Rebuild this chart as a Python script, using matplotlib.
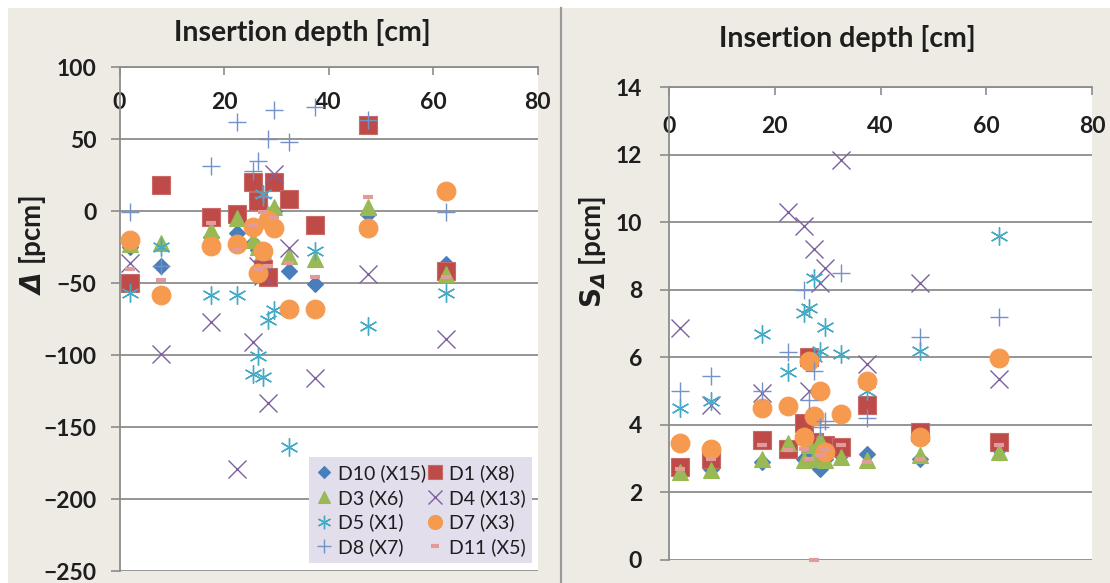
import matplotlib
matplotlib.use("Agg")
import matplotlib.pyplot as plt
from matplotlib.patches import Rectangle
from matplotlib.lines import Line2D

plt.rcParams['font.family'] = ['Lato', 'DejaVu Sans']
plt.rcParams['font.weight'] = 'bold'
plt.rcParams['mathtext.fontset'] = 'dejavusans'

# insertion depths [cm]
depth = [2, 8, 17.5, 22.5, 25.5, 26.5, 27.5, 28.5, 29.5, 32.5, 37.5, 47.5, 62.5]
d5_depth = [2, 8, 17.5, 22.5, 25.5, 26.5, 27.5, 27.5, 28.5, 29.5, 32.5, 37.5, 47.5, 62.5]

# Delta [pcm]
d10_delta = [-25, -38, -18, -15, -22, -27, -30, -8, 0, -42, -51, -2, -37]
d1_delta = [-50, 18, -4, -2, 20, 7, -40, -46, 20, 8, -10, 60, -42]
d3_delta = [-23, -22, -13, -5, -20, -25, -28, -2, 3, -31, -33, 3, -44]
d4_delta = [-36, -99, -77, -179, -91, -38, -45, -133, 26, -26, -116, -44, -89]
d5_delta = [-57, -25, -58, -58, -113, -101, -115, 12, -76, -69, -164, -28, -80, -57]
d7_delta = [-20, -58, -24, -23, -11, -43, -28, -6, -12, -68, -68, -12, 14]
d8_delta = [-1, -38, 31, 62, 28, 35, 10, 50, 70, 48, 72, 63, -1]
d11_delta = [-40, -48, -8, -27, -10, -40, -1, -38, -5, -36, -46, 10, -46]

# S_Delta [pcm]
d10_s = [2.65, 2.7, 2.9, 3.3, 3.0, 3.2, 2.95, 2.7, 3.0, 3.1, 3.15, 3.0, 3.3]
d1_s = [2.75, 3.0, 3.55, 3.3, 4.05, 6.0, 3.5, 3.2, 3.4, 3.35, 4.6, 3.8, 3.5]
d3_s = [2.6, 2.65, 3.0, 3.45, 2.95, 3.4, 3.0, 3.55, 2.95, 3.05, 2.95, 3.1, 3.2]
d4_s = [6.87, 4.6, 4.95, 10.3, 9.9, 5.0, 9.2, 8.2, 8.65, 11.85, 5.8, 8.2, 5.35]
d5_s = [4.5, 4.7, 6.7, 5.55, 7.3, 7.45, 8.35, 6.0, 6.2, 6.9, 6.1, 5.0, 6.2, 9.6]
d7_s = [3.45, 3.3, 4.5, 4.57, 3.65, 5.9, 4.25, 5.0, 3.2, 4.33, 5.3, 3.65, 5.98]
d8_s = [5.0, 5.45, 5.0, 6.15, 8.0, 4.75, 5.6, 3.95, 4.1, 8.5, 4.2, 6.6, 7.2]
d11_s = [2.7, 3.0, 3.4, 3.25, 3.3, 3.0, 0.0, 3.1, 3.3, 3.4, 2.9, 3.0, 3.4]

labels = ["D10 (X15)", "D1 (X8)", "D3 (X6)", "D4 (X13)", "D5 (X1)", "D7 (X3)", "D8 (X7)", "D11 (X5)"]
xs = [depth, depth, depth, depth, d5_depth, depth, depth, depth]
deltas = [d10_delta, d1_delta, d3_delta, d4_delta, d5_delta, d7_delta, d8_delta, d11_delta]
sds = [d10_s, d1_s, d3_s, d4_s, d5_s, d7_s, d8_s, d11_s]

# marker styles (Excel 2007 look)
styles = [
    dict(marker='D', ms=8.5, mfc='#4A7EBB', mec='#4A7EBB', mew=0.8),
    dict(marker='s', ms=12.5, mfc='#BE4B48', mec='#C86A68', mew=0.8),
    dict(marker='^', ms=11.5, mfc='#98B954', mec='#98B954', mew=0.8),
    dict(marker='x', ms=12.5, mfc='none', mec='#7D60A0', mew=1.0),
    dict(marker=(6, 2, 0), ms=13, mfc='none', mec='#46AAC5', mew=1.0),
    dict(marker='o', ms=13.5, mfc='#F59A4E', mec='#F59A4E', mew=0.8),
    dict(marker='+', ms=13, mfc='none', mec='#7292C8', mew=1.0),
    dict(marker='_', ms=7, mfc='none', mec='#E39A9A', mew=3.0),
]

grid_c = '#8C8C8C'
txt_c = '#1E1E1E'

fig = plt.figure(figsize=(11.1, 5.83), dpi=100)
fig.patch.set_facecolor('white')
fig.add_artist(Rectangle((8 / 1110, 0), 1, 1 - 8 / 583, transform=fig.transFigure,
                         facecolor='#EDEBE4', edgecolor='none', zorder=-10))
fig.add_artist(Line2D([560.5 / 1110, 560.5 / 1110], [0, 1 - 8 / 583], transform=fig.transFigure,
                      color='#9A9A9A', lw=1.6))

ax1 = fig.add_axes([119.5 / 1110, 1 - 571 / 583, 418 / 1110, 504 / 583])
ax2 = fig.add_axes([669 / 1110, 1 - 560 / 583, 423 / 1110, 473 / 583])

for ax, ys in [(ax1, deltas), (ax2, sds)]:
    for x, y, st, lab in zip(xs, ys, styles, labels):
        ax.plot(x, y, ls='none', label=lab, clip_on=False, zorder=3, **st)

ax1.set_xlim(0, 80)
ax1.set_ylim(-250, 100)
ax1.set_yticks(range(-250, 101, 50))
ax2.set_xlim(0, 80)
ax2.set_ylim(0, 14)
ax2.set_yticks(range(0, 15, 2))

for ax, xpad, ypad in [(ax1, -33, 10), (ax2, -36, 13)]:
    ax.set_facecolor('white')
    ax.set_xticks([0, 20, 40, 60, 80])
    ax.xaxis.tick_top()
    ax.tick_params(axis='x', direction='in', length=6, width=1.2, color=grid_c,
                   pad=xpad, labelsize=16.5, labelcolor=txt_c)
    ax.tick_params(axis='y', direction='out', length=6.5, width=1.2, color=grid_c,
                   pad=ypad, labelsize=16.5, labelcolor=txt_c)
    for side in ['right', 'bottom']:
        ax.spines[side].set_visible(False)
    for side in ['left', 'top']:
        ax.spines[side].set_color(grid_c)
        ax.spines[side].set_linewidth(1.3)
    ax.yaxis.grid(True, color=grid_c, lw=1.3)
    ax.set_axisbelow(True)

fig.text(302 / 1110, 1 - 33 / 583, "Insertion depth [cm]", ha='center', va='center',
         fontsize=20.5, color=txt_c)
fig.text(847 / 1110, 1 - 39 / 583, "Insertion depth [cm]", ha='center', va='center',
         fontsize=20.5, color=txt_c)
fig.text(32 / 1110, 1 - 245 / 583, r"$\mathbfit{\Delta}$ [pcm]", rotation=90,
         ha='center', va='center', fontsize=20, color=txt_c)
fig.text(592 / 1110, 1 - 252 / 583, r"$\mathbf{S}_{\mathbfit{\Delta}}$ [pcm]", rotation=90,
         ha='center', va='center', fontsize=20, color=txt_c)

# legend: row-wise order like Excel
h, l = ax1.get_legend_handles_labels()
order = [0, 2, 4, 6, 1, 3, 5, 7]
leg = ax1.legend([h[i] for i in order], [l[i] for i in order], ncol=2,
                 loc='lower left', bbox_to_anchor=(0.453, 0.016, 0.534, 0.224),
                 mode='expand', prop={'weight': 'normal', 'size': 14},
                 frameon=True, fancybox=False, borderpad=0.35, labelspacing=0.35,
                 handlelength=0.9, handletextpad=0.25, columnspacing=0.4,
                 borderaxespad=0, markerscale=0.75)
leg.get_frame().set_facecolor('#E2DEEC')
leg.get_frame().set_edgecolor('none')
leg.get_frame().set_alpha(1)
for t in leg.get_texts():
    t.set_color(txt_c)

fig.savefig('out.png', dpi=100)
